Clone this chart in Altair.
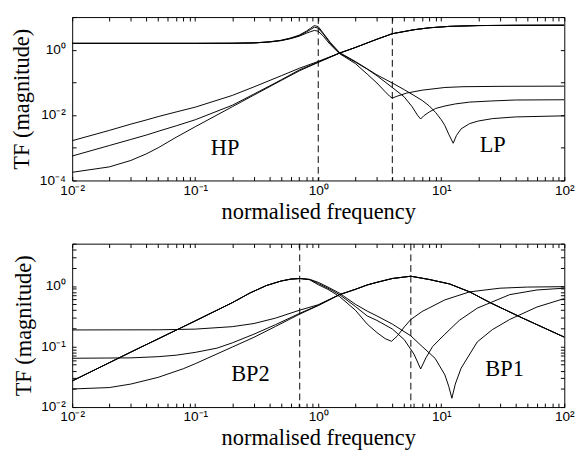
import altair as alt
import pandas as pd

# ---------------- data ----------------
# top panel: high-pass curves (three)
hp_x = [0.01, 0.02, 0.03, 0.04, 0.05, 0.07, 0.1, 0.2, 0.3, 0.5, 0.7, 1.0, 1.49, 2, 3, 4, 6, 8, 11.7, 20, 40, 100]
hp1_y = [1.65e-3, 3.4e-3, 5.3e-3, 7.1e-3, 9.0e-3, 1.25e-2, 1.75e-2, 0.040, 0.073, 0.16, 0.27, 0.44, 0.79, 1.17, 2.1, 3.1, 4.1, 4.7, 5.2, 5.5, 5.6, 5.63]
hp2_y = [5.6e-4, 1.17e-3, 1.8e-3, 2.45e-3, 3.2e-3, 4.7e-3, 7.2e-3, 0.020, 0.044, 0.12, 0.24, 0.42, 0.79, 1.17, 2.1, 3.1, 4.1, 4.7, 5.2, 5.5, 5.6, 5.63]
hp3_y = [1.78e-4, 2.6e-4, 4.1e-4, 6.5e-4, 1.0e-3, 2.1e-3, 4.4e-3, 0.018, 0.041, 0.115, 0.225, 0.41, 0.79, 1.17, 2.1, 3.1, 4.1, 4.7, 5.2, 5.5, 5.6, 5.63]

# top panel: low-pass curves (three, notches near 4, 6.8 and 12.5)
lpA_x = [0.01, 0.1, 0.2, 0.3, 0.4, 0.5, 0.6, 0.7, 0.8, 0.87, 0.93, 1.0, 1.1, 1.25, 1.49, 2, 2.5, 3, 3.5, 3.8, 4.0, 4.3, 5.2, 7, 10.7, 15, 30, 100]
lpA_y = [1.57, 1.57, 1.58, 1.62, 1.72, 1.9, 2.2, 2.6, 3.2, 3.6, 3.9, 3.7, 2.6, 1.45, 0.76, 0.38, 0.18, 0.096, 0.052, 0.038, 0.033, 0.037, 0.047, 0.058, 0.070, 0.074, 0.076, 0.077]
lpB_x = [0.01, 0.1, 0.2, 0.3, 0.4, 0.5, 0.6, 0.7, 0.8, 0.87, 0.93, 1.0, 1.1, 1.25, 1.49, 2, 2.5, 3, 4, 5, 5.8, 6.4, 6.8, 7.2, 8, 9, 10.7, 13, 17, 25, 40, 100]
lpB_y = [1.57, 1.57, 1.58, 1.62, 1.74, 1.93, 2.25, 2.7, 3.5, 4.2, 4.9, 4.6, 3.0, 1.6, 0.79, 0.42, 0.256, 0.160, 0.070, 0.036, 0.018, 0.010, 0.0076, 0.0095, 0.0125, 0.016, 0.019, 0.022, 0.025, 0.027, 0.029, 0.0295]
lpC_x = [0.01, 0.1, 0.2, 0.3, 0.4, 0.5, 0.6, 0.7, 0.8, 0.87, 0.93, 1.0, 1.1, 1.25, 1.49, 2, 2.5, 3, 4, 5, 6, 7, 8, 9, 10, 10.7, 11.5, 12.5, 13.3, 14.5, 17, 20, 26, 40, 100]
lpC_y = [1.57, 1.57, 1.58, 1.62, 1.75, 1.95, 2.3, 2.8, 3.7, 4.6, 5.5, 5.1, 3.2, 1.7, 0.82, 0.44, 0.26, 0.17, 0.096, 0.060, 0.040, 0.028, 0.019, 0.012, 0.0072, 0.0048, 0.0026, 0.00138, 0.0024, 0.0038, 0.0055, 0.0066, 0.0078, 0.0088, 0.0095]

# bottom panel: band-pass 2 curves (three, notches near 3.9, 6.8 and 12.2)
bp2a_x = [0.01, 0.03, 0.1, 0.2, 0.28, 0.38, 0.5, 0.6, 0.71, 0.85, 1.0, 1.2, 1.49, 2, 2.5, 3, 3.5, 3.94, 4.4, 5, 5.66, 7, 7.9, 10.7, 17, 30, 50, 100]
bp2a_y = [0.027, 0.081, 0.265, 0.53, 0.77, 1.02, 1.21, 1.30, 1.33, 1.27, 1.05, 0.88, 0.67, 0.40, 0.235, 0.17, 0.135, 0.122, 0.15, 0.21, 0.28, 0.38, 0.43, 0.59, 0.80, 0.92, 0.96, 0.975]
bp2b_x = [0.01, 0.03, 0.1, 0.2, 0.28, 0.38, 0.5, 0.6, 0.71, 0.85, 1.0, 1.2, 1.49, 2, 2.5, 3, 4, 5, 6, 6.8, 7.5, 8.5, 10.7, 14, 19.6, 36, 60, 100]
bp2b_y = [0.027, 0.081, 0.265, 0.53, 0.77, 1.02, 1.21, 1.30, 1.33, 1.28, 1.1, 0.92, 0.72, 0.46, 0.32, 0.27, 0.195, 0.13, 0.075, 0.0426, 0.065, 0.10, 0.16, 0.27, 0.43, 0.72, 0.86, 0.92]
bp2c_x = [0.01, 0.03, 0.1, 0.2, 0.28, 0.38, 0.5, 0.6, 0.71, 0.85, 1.0, 1.2, 1.49, 2, 2.5, 3, 4, 5.66, 7, 8.9, 10.7, 11.5, 12.2, 13, 14.5, 19.6, 26, 36, 60, 100]
bp2c_y = [0.027, 0.081, 0.265, 0.53, 0.77, 1.02, 1.21, 1.30, 1.33, 1.29, 1.15, 0.96, 0.76, 0.50, 0.385, 0.32, 0.235, 0.15, 0.10, 0.064, 0.034, 0.022, 0.014, 0.024, 0.044, 0.119, 0.19, 0.28, 0.45, 0.62]

# bottom panel: band-pass 1 curves (three, different low-frequency floors)
bp1_hi_x = [1.49, 2, 2.5, 3, 4, 5.66, 8, 11.7, 17, 25, 45, 100]
bp1_hi_y = [0.72, 0.88, 1.04, 1.15, 1.33, 1.45, 1.28, 1.08, 0.80, 0.53, 0.30, 0.143]
bp1a_x = [0.01, 0.05, 0.1, 0.2, 0.3, 0.45, 0.71, 1.0] + bp1_hi_x
bp1a_y = [0.188, 0.189, 0.194, 0.213, 0.24, 0.295, 0.40, 0.49] + bp1_hi_y
bp1b_x = [0.01, 0.03, 0.05, 0.07, 0.1, 0.15, 0.2, 0.3, 0.45, 0.71, 1.0] + bp1_hi_x
bp1b_y = [0.064, 0.065, 0.068, 0.072, 0.080, 0.094, 0.115, 0.16, 0.23, 0.355, 0.48] + bp1_hi_y
bp1c_x = [0.01, 0.02, 0.03, 0.05, 0.08, 0.1, 0.2, 0.3, 0.45, 0.71, 1.0] + bp1_hi_x
bp1c_y = [0.0199, 0.021, 0.024, 0.031, 0.043, 0.052, 0.098, 0.142, 0.215, 0.345, 0.475] + bp1_hi_y

# dashed reference frequencies
top_marks = [1.0, 4.0]
bot_marks = [0.707, 5.657]

# panel labels
top_labels = ["HP", "LP"]
top_label_x = [0.175, 26.2]
top_label_y = [9.8e-4, 1.2e-3]
bot_labels = ["BP2", "BP1"]
bot_label_x = [0.281, 32.7]
bot_label_y = [0.0344, 0.0415]

x_title = "normalised frequency"
y_title = "TF (magnitude)"

# tick positions
x_ticks = [m * 10.0 ** e for e in range(-2, 2) for m in range(1, 10)] + [100.0]
top_y_ticks = [1e-4, 1e-3, 1e-2, 1e-1, 1.0, 10.0]
bot_y_ticks = [m * 10.0 ** e for e in (-2, -1) for m in range(1, 10)] + [1.0, 2.0, 3.0, 4.0, 5.0]

SUP = {-4: "10⁻⁴", -3: "10⁻³", -2: "10⁻²", -1: "10⁻¹", 0: "10⁰", 1: "10¹", 2: "10²"}


def label_expr(exps):
    expr = "''"
    for e in reversed(exps):
        v = 10.0 ** e
        expr = f"abs(datum.value - {v!r}) < {v * 1e-6!r} ? '{SUP[e]}' : ({expr})"
    return expr


def frame(series):
    rows = []
    for name, xs, ys in series:
        for xv, yv in zip(xs, ys):
            rows.append({"series": name, "x": xv, "y": yv})
    return pd.DataFrame(rows)


top_df = frame([
    ("hp1", hp_x, hp1_y), ("hp2", hp_x, hp2_y), ("hp3", hp_x, hp3_y),
    ("lpA", lpA_x, lpA_y), ("lpB", lpB_x, lpB_y), ("lpC", lpC_x, lpC_y),
])
bot_df = frame([
    ("bp2a", bp2a_x, bp2a_y), ("bp2b", bp2b_x, bp2b_y), ("bp2c", bp2c_x, bp2c_y),
    ("bp1a", bp1a_x, bp1a_y), ("bp1b", bp1b_x, bp1b_y), ("bp1c", bp1c_x, bp1c_y),
])

W, H = 506, 168
TICK = 4


def panel(df, marks, labels, lx, ly, y_domain, y_ticks, y_label_exps):
    xs = alt.Scale(type="log", domain=[0.01, 100], nice=False)
    ys = alt.Scale(type="log", domain=y_domain, nice=False)
    x_axis = alt.Axis(values=x_ticks, labelExpr=label_expr([-2, -1, 0, 1, 2]), title=x_title,
                      orient="bottom", tickSize=TICK, offset=-TICK, domain=False, grid=False,
                      labelPadding=3, titlePadding=4, labelFlush=False)
    y_axis = alt.Axis(values=y_ticks, labelExpr=label_expr(y_label_exps), title=y_title,
                      orient="left", tickSize=TICK, offset=-TICK, domain=False, grid=False,
                      labelPadding=7, titlePadding=6)
    lines = alt.Chart(df).mark_line(color="black", strokeWidth=1, clip=True).encode(
        x=alt.X("x:Q", scale=xs, axis=x_axis),
        y=alt.Y("y:Q", scale=ys, axis=y_axis),
        detail="series:N",
    )
    rules = alt.Chart(pd.DataFrame({"x": marks})).mark_rule(
        color="black", strokeWidth=1, strokeDash=[7, 4]
    ).encode(x=alt.X("x:Q", scale=xs, axis=None))
    text = alt.Chart(pd.DataFrame({"t": labels, "x": lx, "y": ly})).mark_text(
        font="Liberation Serif", fontSize=23, color="black", align="center", baseline="middle"
    ).encode(
        x=alt.X("x:Q", scale=xs, axis=alt.Axis(values=x_ticks, orient="top", labels=False, title=None,
                                               tickSize=TICK, offset=-TICK, domain=False, grid=False)),
        y=alt.Y("y:Q", scale=ys, axis=alt.Axis(values=y_ticks, orient="right", labels=False, title=None,
                                               tickSize=TICK, offset=-TICK, domain=False, grid=False)),
        text="t:N",
    )
    return alt.layer(lines, rules, text).resolve_axis(x="independent", y="independent").properties(
        width=W, height=H
    )


top = panel(top_df, top_marks, top_labels, top_label_x, top_label_y, [1e-4, 10], top_y_ticks, [-4, -2, 0])
bot = panel(bot_df, bot_marks, bot_labels, bot_label_x, bot_label_y, [0.01, 5], bot_y_ticks, [-2, -1, 0])

chart = alt.vconcat(top, bot, spacing=19).properties(
    padding={"left": 2, "top": 2, "right": 0, "bottom": 0}, background="white"
).configure_axis(
    labelFont="Liberation Sans", labelFontSize=14, labelColor="black",
    titleFont="Liberation Serif", titleFontSize=23, titleFontWeight="normal", titleColor="black",
    tickColor="black", tickWidth=1,
).configure_view(stroke="black", strokeWidth=1)

chart.save("out.html", embed_options={"renderer": "svg", "actions": False})
